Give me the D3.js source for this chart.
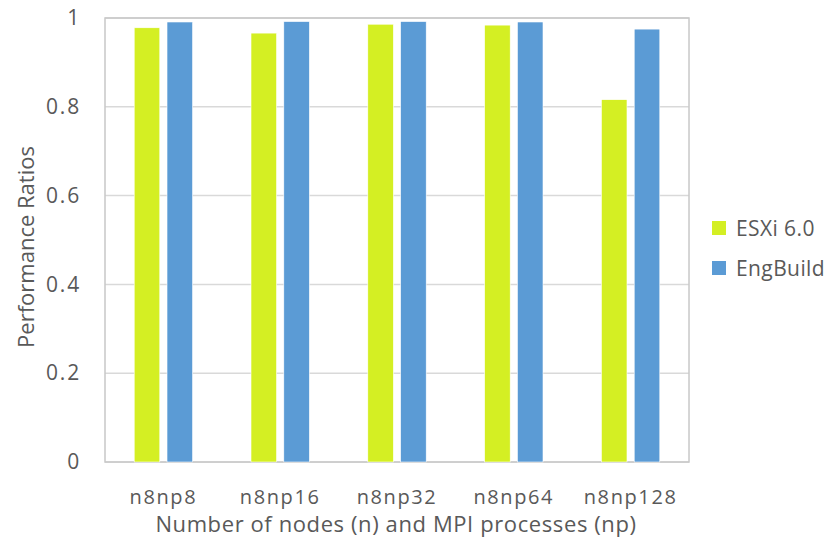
<!DOCTYPE html>
<html><head><meta charset="utf-8">
<script src="https://cdn.jsdelivr.net/npm/d3@7"></script>
<style>body{margin:0;background:#fff}text{font-family:"Open Sans",sans-serif;fill:#595959}</style>
</head><body><svg id="c" width="832" height="543"></svg>
<script>
const categories = ["n8np8","n8np16","n8np32","n8np64","n8np128"];
const seriesNames = ["ESXi 6.0","EngBuild"];
const esxi = [0.978,0.966,0.986,0.984,0.816];
const engBuild = [0.991,0.992,0.992,0.991,0.975];
const yTicks = [0,0.2,0.4,0.6,0.8,1];
const colors = ["#D4EF23","#5B9BD5"];

const svg = d3.select("#c");
const L=105,R=689,T=18,B=462;
const x0 = d3.scaleBand().domain(categories).range([L,R]).paddingInner(0.5).paddingOuter(0.25);
const x1 = d3.scaleBand().domain(seriesNames).range([0,x0.bandwidth()]).paddingInner(0.22);
const y = d3.scaleLinear().domain([0,1]).range([B,T]);
const color = d3.scaleOrdinal().domain(seriesNames).range(colors);

svg.append("g").selectAll("line").data(yTicks).join("line")
  .attr("x1",L).attr("x2",R).attr("y1",d=>y(d)).attr("y2",d=>y(d))
  .attr("stroke","#d9d9d9").attr("stroke-width",1.5);
svg.append("rect").attr("x",L).attr("y",T).attr("width",R-L).attr("height",B-T)
  .attr("fill","none").attr("stroke","#c8c8c8").attr("stroke-width",1.5);

const data = categories.map((c,i)=>({cat:c, vals:[{s:seriesNames[0],v:esxi[i]},{s:seriesNames[1],v:engBuild[i]}]}));
svg.append("g").selectAll("g").data(data).join("g")
  .attr("transform",d=>`translate(${x0(d.cat)},0)`)
  .selectAll("rect").data(d=>d.vals).join("rect")
  .attr("x",d=>x1(d.s)).attr("width",x1.bandwidth())
  .attr("y",d=>y(d.v)).attr("height",d=>B-y(d.v))
  .attr("fill",d=>color(d.s)).attr("stroke","#fff").attr("stroke-width",0.6);

const yAxis = d3.axisLeft(y).tickValues(yTicks).tickFormat(d3.format("~g")).tickSize(0).tickPadding(24);
const gy = svg.append("g").attr("transform",`translate(${L},0)`).call(yAxis);
gy.select(".domain").remove();
gy.selectAll("text").style("font-size","21px").style("letter-spacing","1.8px").attr("fill","#595959");

const xAxis = d3.axisBottom(x0).tickSize(0).tickPadding(0);
const gx = svg.append("g").attr("transform",`translate(0,${B})`).call(xAxis);
gx.select(".domain").remove();
gx.selectAll("text").attr("dy",null).attr("y",42).style("font-size","20px").style("letter-spacing","1.6px").attr("fill","#595959");

svg.append("text").attr("x",396).attr("y",532).attr("text-anchor","middle")
  .style("font-size","22px").style("letter-spacing","0.6px").text("Number of nodes (n) and MPI processes (np)");
svg.append("text").attr("transform","translate(34,247) rotate(-90)").attr("text-anchor","middle")
  .style("font-size","22px").text("Performance Ratios");

const lg = svg.append("g").selectAll("g").data(seriesNames).join("g")
  .attr("transform",(d,i)=>`translate(712,${221+i*40})`);
lg.append("rect").attr("width",14).attr("height",14).attr("fill",d=>color(d));
lg.append("text").attr("x",24).attr("y",15).style("font-size","21px").style("letter-spacing","0.4px").text(d=>d);
</script></body></html>
